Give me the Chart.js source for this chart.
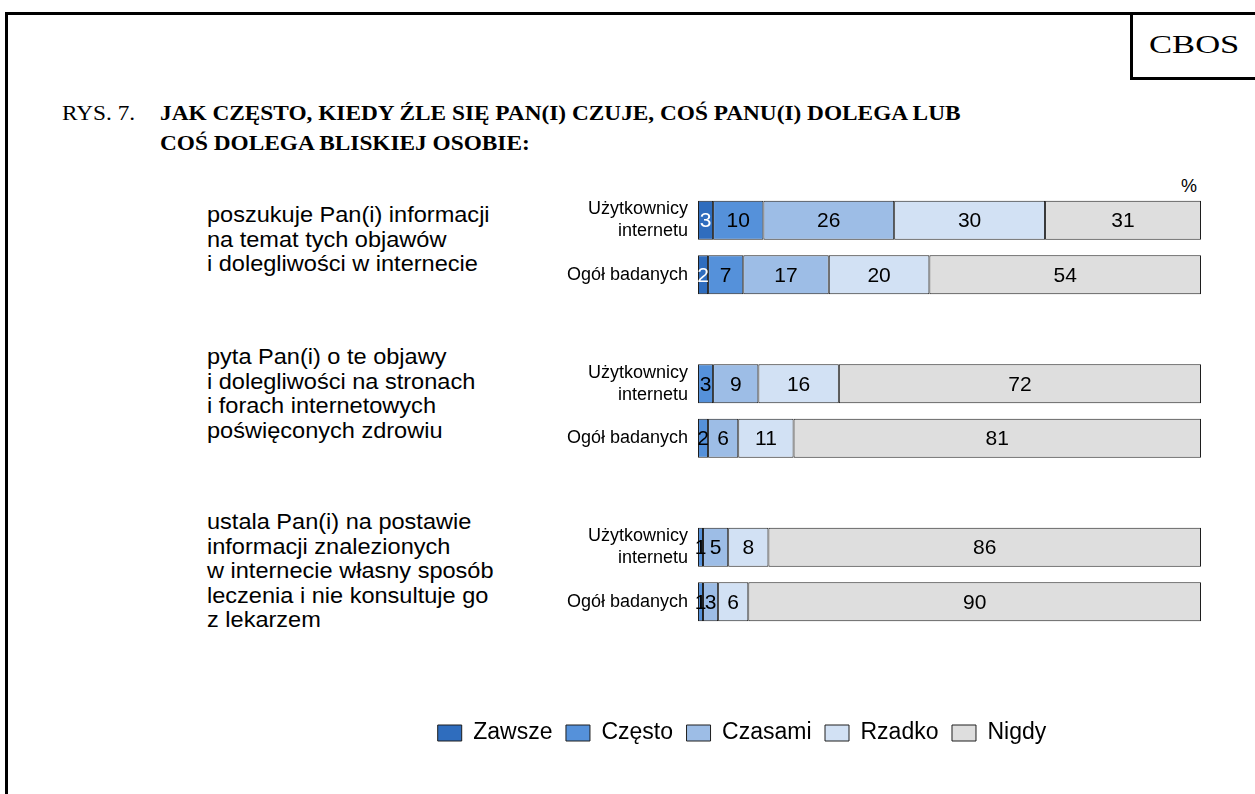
<!DOCTYPE html>
<html lang="pl">
<head>
<meta charset="utf-8">
<title>CBOS - Rys. 7</title>
<script src="https://cdn.jsdelivr.net/npm/chart.js@4.4.1/dist/chart.umd.min.js"></script>
<style>
  html, body { margin: 0; padding: 0; background: #fff; }
  body { width: 1255px; height: 794px; position: relative; overflow: hidden; font-family: "Liberation Sans", Arial, sans-serif; }
  .frame { position: absolute; left: 5px; top: 12px; width: 1400px; height: 900px; border-left: 3px solid #000; border-top: 3px solid #000; }
  .cbos { position: absolute; left: 1130px; top: 12px; width: 140px; height: 65px; border-left: 3px solid #000; border-bottom: 3px solid #000; }
  .cbos span { position: absolute; left: 16px; top: 18px; font: 26px "Liberation Serif", "Times New Roman", serif; transform: scaleX(1.33); transform-origin: left top; }
  .title { position: absolute; font: 20px "Liberation Serif", "Times New Roman", serif; transform: scaleX(1.165); transform-origin: left top; white-space: nowrap; line-height: 30px; }
  .title b { font-weight: bold; }
  .question { position: absolute; left: 207px; font-size: 22px; line-height: 24.5px; transform: scaleX(1.07); transform-origin: left top; white-space: nowrap; color: #000; }
  .pct { position: absolute; left: 1181px; top: 176px; font-size: 18px; }
  #chart { position: absolute; left: 0; top: 0; }
</style>
</head>
<body>
<div class="frame"></div>
<div class="cbos"><span>CBOS</span></div>
<div class="title" style="left:62px; top:98px;">RYS. 7.</div>
<div class="title" style="left:160px; top:98px;"><b>JAK CZĘSTO, KIEDY ŹLE SIĘ PAN(I) CZUJE, COŚ PANU(I) DOLEGA LUB<br>COŚ DOLEGA BLISKIEJ OSOBIE:</b></div>

<div class="question" style="top:203px;">poszukuje Pan(i) informacji<br>na temat tych objawów<br>i dolegliwości w internecie</div>
<div class="question" style="top:345px;">pyta Pan(i) o te objawy<br>i dolegliwości na stronach<br>i forach internetowych<br>poświęconych zdrowiu</div>
<div class="question" style="top:510px;">ustala Pan(i) na postawie<br>informacji znalezionych<br>w internecie własny sposób<br>leczenia i nie konsultuje go<br>z lekarzem</div>
<div class="pct">%</div>

<canvas id="chart" width="1255" height="794"></canvas>

<script>
// rows: internet users / all respondents for each question, empty rows separate the questions
const categories = [
  ["Użytkownicy", "internetu"], "Ogół badanych", "",
  ["Użytkownicy", "internetu"], "Ogół badanych", "",
  ["Użytkownicy", "internetu"], "Ogół badanych"
]
const seriesNames = ["Zawsze", "Często", "Czasami", "Rzadko", "Nigdy"]
const zawsze  = [3, 2, null, 0, 0, null, 0, 0]
const czesto  = [10, 7, null, 3, 2, null, 1, 1]
const czasami = [26, 17, null, 9, 6, null, 5, 3]
const rzadko  = [30, 20, null, 16, 11, null, 8, 6]
const nigdy   = [31, 54, null, 72, 81, null, 86, 90]

const colors = ["#2f6dbe", "#5591da", "#9dbde6", "#d2e1f4", "#dedede"]
const labelColors = ["#ffffff", "#000000", "#000000", "#000000", "#000000"]

// values written inside each segment
const segmentLabels = {
  id: "segmentLabels",
  afterDatasetsDraw(chart) {
    const ctx = chart.ctx
    ctx.save()
    ctx.font = '21px "Liberation Sans", Arial, sans-serif'
    ctx.textAlign = "center"
    ctx.textBaseline = "middle"
    chart.data.datasets.forEach((ds, i) => {
      const meta = chart.getDatasetMeta(i)
      meta.data.forEach((bar, j) => {
        const v = ds.data[j]
        if (!v) return
        ctx.fillStyle = labelColors[i]
        ctx.fillText(String(v), (bar.x + bar.base) / 2, bar.y + 1)
      })
    })
    ctx.restore()
  }
}

const allSeries = [zawsze, czesto, czasami, rzadko, nigdy]

new Chart(document.getElementById("chart"), {
  type: "bar",
  data: {
    labels: categories,
    datasets: allSeries.map((data, i) => ({
      label: seriesNames[i],
      data: data,
      backgroundColor: colors[i],
      borderColor: "#1e1e1e",
      borderWidth: 1,
      borderSkipped: false,
      categoryPercentage: 1,
      barPercentage: 0.716
    }))
  },
  options: {
    indexAxis: "y",
    responsive: false,
    animation: false,
    devicePixelRatio: 1,
    layout: { padding: { top: 193, right: 54, bottom: 39.5, left: 283 } },
    scales: {
      x: {
        stacked: true,
        min: 0,
        max: 100,
        grid: { display: false },
        border: { display: false },
        ticks: { display: false },
        afterFit: (scale) => { scale.height = 79 }
      },
      y: {
        stacked: true,
        grid: { display: false, drawTicks: false },
        border: { display: false },
        ticks: {
          color: "#000",
          padding: 10,
          font: { family: '"Liberation Sans", Arial, sans-serif', size: 18 }
        },
        afterFit: (scale) => { scale.width = 415 }
      }
    },
    plugins: {
      legend: {
        position: "bottom",
        labels: {
          boxWidth: 24,
          boxHeight: 16,
          padding: 13.5,
          color: "#000",
          font: { family: '"Liberation Sans", Arial, sans-serif', size: 23 }
        }
      },
      tooltip: { enabled: false }
    }
  },
  plugins: [segmentLabels]
})
</script>
</body>
</html>
